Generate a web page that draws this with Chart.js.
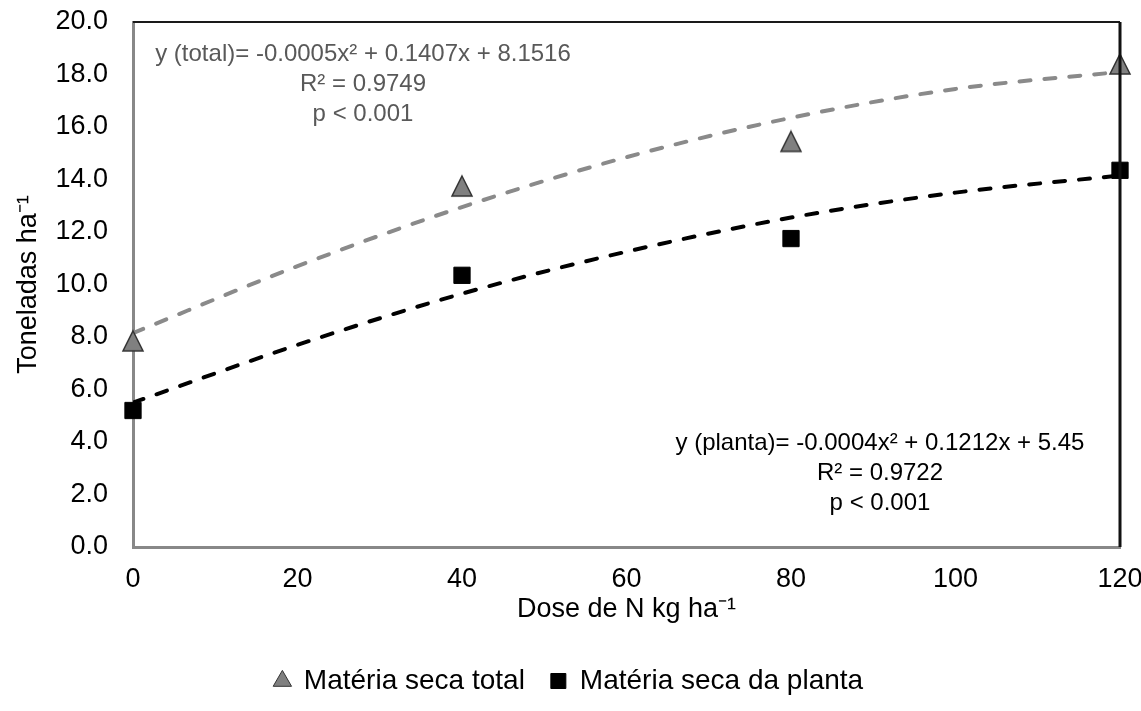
<!DOCTYPE html>
<html>
<head>
<meta charset="utf-8">
<script src="https://cdn.jsdelivr.net/npm/chart.js@4/dist/chart.umd.min.js"></script>
<style>
  html, body { margin: 0; padding: 0; background: #fff; }
  #wrap { width: 1141px; height: 711px; }
</style>
</head>
<body>
<div id="wrap"><canvas id="scatterChart"></canvas></div>
<script>
// Dose de N (kg/ha)
const doses = [0, 40, 80, 120];
const materiaTotal = [7.85, 13.75, 15.45, 18.4];
const materiaPlanta = [5.2, 10.35, 11.75, 14.35];

// trend lines
const trendX = [0, 20, 40, 60, 80, 100, 120];
const trendTotal = [8.15, 10.7, 12.95, 14.85, 16.35, 17.45, 18.1];
const trendPlanta = [5.5, 7.7, 9.65, 11.25, 12.55, 13.5, 14.15];

const yTicks = [0, 2, 4, 6, 8, 10, 12, 14, 16, 18, 20];
const xTicks = [0, 20, 40, 60, 80, 100, 120];

const eqTotal = ["y (total)= -0.0005x² + 0.1407x + 8.1516", "R² = 0.9749", "p < 0.001"];
const eqPlanta = ["y (planta)= -0.0004x² + 0.1212x + 5.45", "R² = 0.9722", "p < 0.001"];

const FONT = "'Liberation Sans', Arial, sans-serif";

const toPoints = (xs, ys) => xs.map((x, i) => ({ x: x, y: ys[i] }));

// triangle marker centred on its box, like the Excel one
function triangleMarker(size) {
	const c = document.createElement("canvas");
	c.width = size + 4;
	c.height = size + 4;
	const g = c.getContext("2d");
	g.fillStyle = "#808080";
	g.strokeStyle = "#333";
	g.lineWidth = 1.5;
	g.beginPath();
	g.moveTo(c.width / 2, 2);
	g.lineTo(c.width - 2, c.height - 2);
	g.lineTo(2, c.height - 2);
	g.closePath();
	g.fill();
	g.stroke();
	return c;
}

// frame + equation labels
const extras = {
	id: "extras",
	afterDatasetsDraw(chart) {
		const { ctx, chartArea: a } = chart;
		ctx.save();
		ctx.strokeStyle = "#1a1a1a";
		ctx.lineWidth = 2;
		ctx.beginPath();
		ctx.moveTo(a.left, a.top);
		ctx.lineTo(a.right, a.top);
		ctx.stroke();
		ctx.lineWidth = 3;
		ctx.strokeStyle = "#111";
		ctx.beginPath();
		ctx.moveTo(a.right, a.top);
		ctx.lineTo(a.right, a.bottom);
		ctx.stroke();

		ctx.font = "24px " + FONT;
		ctx.textAlign = "center";
		ctx.textBaseline = "middle";
		ctx.fillStyle = "#595959";
		eqTotal.forEach((t, i) => ctx.fillText(t, a.left + 230, a.top + 32 + i * 30));
		ctx.fillStyle = "#000";
		eqPlanta.forEach((t, i) => ctx.fillText(t, a.left + 747, a.top + 421 + i * 30));
		ctx.restore();
	},
};

const ctxScatter = document.getElementById("scatterChart");
new Chart(ctxScatter, {
	type: "scatter",
	data: {
		datasets: [
			{
				label: "Matéria seca total",
				data: toPoints(doses, materiaTotal),
				pointStyle: triangleMarker(20),
				pointRadius: 12,
				backgroundColor: "#808080",
				borderColor: "#333",
				clip: false,
				order: 1,
			},
			{
				label: "Matéria seca da planta",
				data: toPoints(doses, materiaPlanta),
				pointStyle: "rect",
				pointRadius: 11.5,
				pointBackgroundColor: "#000",
				pointBorderColor: "#000",
				pointBorderWidth: 1,
				backgroundColor: "#000",
				borderColor: "#000",
				clip: false,
				order: 1,
			},
			{
				label: "trend total",
				data: toPoints(trendX, trendTotal),
				showLine: true,
				borderColor: "#8a8a8a",
				borderWidth: 4,
				borderDash: [11, 14],
				borderCapStyle: "round",
				pointRadius: 0,
				cubicInterpolationMode: "monotone",
				order: 2,
			},
			{
				label: "trend planta",
				data: toPoints(trendX, trendPlanta),
				showLine: true,
				borderColor: "#000",
				borderWidth: 4,
				borderDash: [11, 14],
				borderCapStyle: "round",
				pointRadius: 0,
				cubicInterpolationMode: "monotone",
				order: 2,
			},
		],
	},
	options: {
		responsive: true,
		maintainAspectRatio: false,
		animation: false,
		layout: { padding: { left: 0, right: 3, top: 3, bottom: 6 } },
		plugins: {
			tooltip: { enabled: false },
			legend: {
				display: true,
				position: "bottom",
				labels: {
					generateLabels: (chart) =>
						Chart.defaults.plugins.legend.labels.generateLabels(chart)
							.filter((item) => item.datasetIndex < 2)
							.map((item) => {
								item.pointStyle = item.datasetIndex === 0 ? "triangle" : "rect";
								item.fillStyle = item.datasetIndex === 0 ? "#808080" : "#000";
								item.strokeStyle = item.datasetIndex === 0 ? "#333" : "#000";
								item.lineWidth = 1;
								return item;
							}),
					usePointStyle: true,
					boxHeight: 15,
					boxWidth: 15,
					padding: 26,
					color: "#000",
					font: { family: FONT, size: 28 },
				},
			},
		},
		scales: {
			x: {
				type: "linear",
				min: 0,
				max: 120,
				afterBuildTicks: (axis) => { axis.ticks = xTicks.map((v) => ({ value: v })); },
				afterFit: (axis) => {
					axis.height = 94;
					axis.paddingLeft = 0;
					axis.paddingRight = 21;
				},
				grid: { display: false, drawTicks: false },
				border: { color: "#888", width: 3 },
				ticks: { color: "#000", padding: 16, font: { family: FONT, size: 27 } },
				title: {
					display: true,
					text: "Dose de N kg ha⁻¹",
					color: "#000",
					padding: { top: 4, bottom: 15 },
					font: { family: FONT, size: 27 },
				},
			},
			y: {
				min: 0,
				max: 20,
				afterBuildTicks: (axis) => { axis.ticks = yTicks.map((v) => ({ value: v })); },
				afterFit: (axis) => {
					axis.width = 133;
					axis.paddingTop = 22;
					axis.paddingBottom = 0;
				},
				grid: { display: false, drawTicks: false },
				border: { color: "#888", width: 3 },
				ticks: {
					color: "#000",
					padding: 25,
					font: { family: FONT, size: 27 },
					callback: (v) => v.toFixed(1),
				},
				title: {
					display: true,
					text: "Toneladas ha⁻¹",
					color: "#000",
					padding: { top: 12, bottom: 0 },
					font: { family: FONT, size: 27 },
				},
			},
		},
	},
	plugins: [extras],
});
</script>
</body>
</html>
